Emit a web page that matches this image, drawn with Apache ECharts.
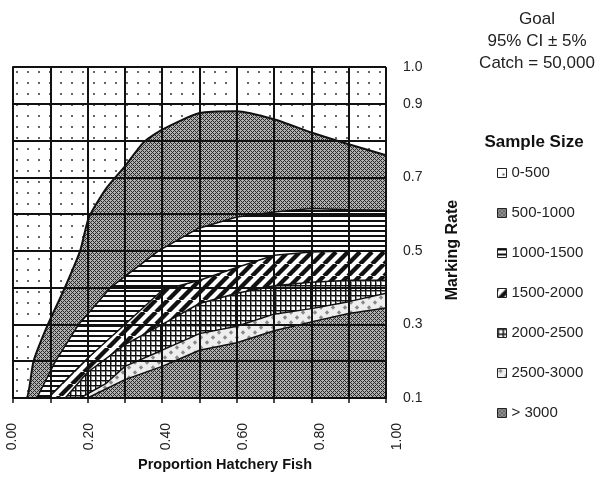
<!DOCTYPE html>
<html>
<head>
<meta charset="utf-8">
<script src="https://cdn.jsdelivr.net/npm/echarts@6/dist/echarts.min.js"></script>
<style>
  html, body { margin: 0; padding: 0; background: #fff; }
  #chart { width: 603px; height: 485px; }
</style>
</head>
<body>
<div id="chart"></div>
<script>
// Sample-size bands: each band is filled from its upper boundary down to the axis floor,
// drawn from the top band to the bottom band so lower bands paint over higher ones.
const bandNames = ['0-500', '500-1000', '1000-1500', '1500-2000', '2000-2500', '2500-3000', '> 3000'];

// Upper boundary of each band (x = proportion hatchery fish, y = marking rate)
const band0X = [0.0, 1.0];
const band0Y = [1.0, 1.0];

const band1X = [0.0, 0.035, 0.055, 0.091, 0.136, 0.18, 0.203, 0.25, 0.3, 0.35, 0.4, 0.5, 0.6, 0.7, 0.8, 0.9, 1.0];
const band1Y = [0.1, 0.1, 0.2, 0.294, 0.393, 0.5, 0.59, 0.67, 0.73, 0.795, 0.83, 0.875, 0.88, 0.858, 0.822, 0.79, 0.76];

const band2X = [0.064, 0.114, 0.176, 0.261, 0.39, 0.494, 0.6, 0.7, 0.8, 0.9, 1.0];
const band2Y = [0.1, 0.2, 0.3, 0.4, 0.5, 0.56, 0.592, 0.606, 0.615, 0.612, 0.61];

const band3X = [0.093, 0.1, 0.2, 0.3, 0.4, 0.5, 0.6, 0.7, 0.8, 0.9, 1.0];
const band3Y = [0.1, 0.107, 0.208, 0.3, 0.393, 0.42, 0.455, 0.488, 0.497, 0.5, 0.5];

const band4X = [0.14, 0.2, 0.3, 0.4, 0.5, 0.6, 0.7, 0.8, 0.9, 1.0];
const band4Y = [0.1, 0.17, 0.245, 0.3, 0.357, 0.385, 0.405, 0.415, 0.42, 0.42];

const band5X = [0.18, 0.25, 0.3, 0.4, 0.5, 0.6, 0.7, 0.8, 0.9, 1.0];
const band5Y = [0.1, 0.14, 0.186, 0.23, 0.275, 0.295, 0.328, 0.343, 0.362, 0.385];

const band6X = [0.2, 0.3, 0.4, 0.5, 0.6, 0.7, 0.8, 0.9, 1.0];
const band6Y = [0.1, 0.15, 0.186, 0.23, 0.25, 0.283, 0.307, 0.33, 0.345];

// Marking-rate values that carry a tick label
const yLabelValues = [0.1, 0.3, 0.5, 0.7, 0.9, 1.0];

// ---- fill patterns ----
function tile(w, h, paint) {
  const c = document.createElement('canvas');
  c.width = w; c.height = h;
  const g = c.getContext('2d');
  paint(g, w, h);
  return { image: c, repeat: 'repeat' };
}
const patDots = tile(11, 11, (g, w, h) => {
  g.fillStyle = '#ffffff'; g.fillRect(0, 0, w, h);
  g.fillStyle = '#666666'; g.fillRect(5, 5, 2, 2);
});
const patCross = tile(4, 4, (g) => {
  for (let x = 0; x < 4; x++) for (let y = 0; y < 4; y++) {
    const dark = (x + y) % 4 === 0 || (x - y + 4) % 4 === 0;
    g.fillStyle = dark ? '#2a2a2a' : '#b0b0b0';
    g.fillRect(x, y, 1, 1);
  }
});
const patHLines = tile(6, 5, (g, w, h) => {
  g.fillStyle = '#ffffff'; g.fillRect(0, 0, w, h);
  g.fillStyle = '#111111'; g.fillRect(0, 0, w, 2);
});
const patDiag = tile(12, 12, (g, w, h) => {
  g.fillStyle = '#ffffff'; g.fillRect(0, 0, w, h);
  g.strokeStyle = '#111111'; g.lineWidth = 4.4;
  for (const o of [-12, 0, 12]) {
    g.beginPath(); g.moveTo(o, h); g.lineTo(o + w, 0); g.stroke();
  }
});
const patGrid = tile(5, 5, (g, w, h) => {
  g.fillStyle = '#ffffff'; g.fillRect(0, 0, w, h);
  g.fillStyle = '#111111'; g.fillRect(0, 0, w, 1); g.fillRect(0, 0, 1, h);
  g.fillStyle = '#888888'; g.fillRect(1, 1, w - 1, 1); g.fillRect(1, 1, 1, h - 1);
});
const patDiamond = tile(12, 10, (g, w, h) => {
  g.fillStyle = '#eeeeee'; g.fillRect(0, 0, w, h);
  g.fillStyle = '#8a8a8a';
  for (const [cx, cy] of [[3, 2.5], [9, 7.5]]) {
    g.beginPath();
    g.moveTo(cx, cy - 2.2); g.lineTo(cx + 2.2, cy); g.lineTo(cx, cy + 2.2); g.lineTo(cx - 2.2, cy);
    g.closePath(); g.fill();
  }
});
const bandPatterns = [patDots, patCross, patHLines, patDiag, patGrid, patDiamond, patCross];
const bandXs = [band0X, band1X, band2X, band3X, band4X, band5X, band6X];
const bandYs = [band0Y, band1Y, band2Y, band3Y, band4Y, band5Y, band6Y];

const FONT = 'Liberation Sans, Arial, sans-serif';

const series = bandNames.map((name, i) => ({
  name,
  type: 'line',
  xAxisIndex: 0,
  yAxisIndex: 0,
  data: bandXs[i].map((x, k) => [x, bandYs[i][k]]),
  smooth: i === 1 ? 0.2 : false,
  showSymbol: false,
  symbol: 'none',
  silent: true,
  z: 2,
  lineStyle: { color: '#111', width: i === 0 ? 0 : (i === 1 ? 2 : 1.5) },
  itemStyle: { color: bandPatterns[i] },
  areaStyle: { color: bandPatterns[i], opacity: 1, origin: 'start' }
}));

const chart = echarts.init(document.getElementById('chart'), null, { renderer: 'canvas' });
chart.setOption({
  animation: false,
  backgroundColor: '#ffffff',
  grid: [
    { left: 13, top: 67, width: 373, height: 331 },
    { left: 12, top: 67, width: 385, height: 331 }
  ],
  xAxis: [
    {
      gridIndex: 0, type: 'value', min: 0, max: 1, interval: 0.1, z: 10,
      axisLine: { show: true, lineStyle: { color: '#111', width: 2 } },
      axisTick: { show: true, length: 5, lineStyle: { color: '#111', width: 1.5 } },
      axisLabel: { show: false },
      splitLine: { show: true, lineStyle: { color: '#111', width: 2 } }
    },
    {
      gridIndex: 1, type: 'value', min: 0, max: 1, interval: 0.2,
      axisLine: { show: false }, axisTick: { show: false }, splitLine: { show: false },
      axisLabel: {
        show: true, rotate: 90, margin: 25, fontSize: 14, color: '#222', fontFamily: FONT,
        formatter: v => v.toFixed(2)
      }
    }
  ],
  yAxis: [
    {
      gridIndex: 0, type: 'value', position: 'right', min: 0.1, max: 1.0, interval: 0.1, z: 10,
      axisLine: { show: true, lineStyle: { color: '#111', width: 2 } },
      axisTick: { show: true, length: 5, lineStyle: { color: '#111', width: 1.5 } },
      axisLabel: {
        show: true, margin: 17, fontSize: 14, color: '#222', fontFamily: FONT,
        formatter: v => yLabelValues.some(s => Math.abs(s - v) < 1e-6) ? v.toFixed(1) : ''
      },
      splitLine: { show: true, lineStyle: { color: '#111', width: 2 } }
    },
    { gridIndex: 1, type: 'value', min: 0.1, max: 1.0, show: false }
  ],
  legend: {
    orient: 'vertical',
    left: 497, top: 165, padding: 0,
    itemWidth: 9, itemHeight: 9, itemGap: 24,
    textStyle: { fontSize: 15, color: '#222', fontFamily: FONT, lineHeight: 16 },
    data: bandNames.map((n, i) => ({
      name: n, icon: 'rect',
      itemStyle: { color: bandPatterns[i], borderColor: '#222', borderWidth: 1 }
    }))
  },
  graphic: [
    {
      type: 'text', x: 537, y: 8,
      style: {
        text: 'Goal\n95% CI ± 5%\nCatch = 50,000',
        textAlign: 'center', font: '17px ' + FONT, lineHeight: 22, fill: '#222'
      }
    },
    {
      type: 'text', x: 534, y: 142,
      style: { text: 'Sample Size', textAlign: 'center', textVerticalAlign: 'middle', font: 'bold 17px ' + FONT, fill: '#111' }
    },
    {
      type: 'text', x: 453, y: 250, rotation: Math.PI / 2,
      style: { text: 'Marking Rate', textAlign: 'center', textVerticalAlign: 'middle', font: 'bold 16px ' + FONT, fill: '#111' }
    },
    {
      type: 'text', x: 225, y: 465,
      style: { text: 'Proportion Hatchery Fish', textAlign: 'center', textVerticalAlign: 'middle', font: 'bold 14.5px ' + FONT, fill: '#111' }
    }
  ],
  series
});
</script>
</body>
</html>
